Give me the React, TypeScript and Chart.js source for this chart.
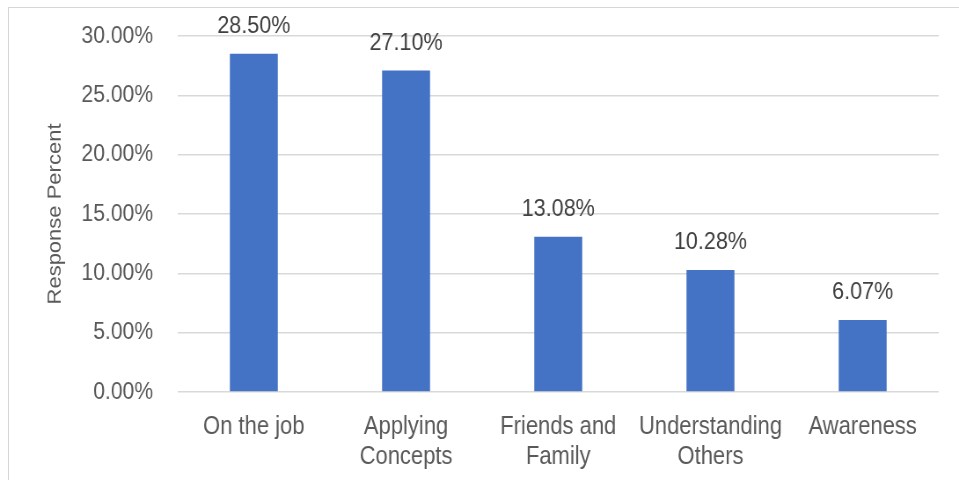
import React, { useEffect, useRef } from "react";
import { Chart, registerables } from "chart.js";

Chart.register(...registerables);

const categories: string[][] = [
  ["On the job"],
  ["Applying", "Concepts"],
  ["Friends and", "Family"],
  ["Understanding", "Others"],
  ["Awareness"],
];
const values: number[] = [28.5, 27.1, 13.08, 10.28, 6.07];
const valueLabels: string[] = ["28.50%", "27.10%", "13.08%", "10.28%", "6.07%"];
const yMin = 0;
const yMax = 30;
const yStep = 5;
const yTitle = "Response Percent";

// The reference's glyphs are horizontally condensed; draw on a wider canvas and squeeze it.
const SQUEEZE = 0.88;
const OUT_W = 959;
const OUT_H = 480;
const IN_W = Math.round(OUT_W / SQUEEZE);
const FONT = '"Liberation Sans", Arial, Helvetica, sans-serif';

const labelPlugin = {
  id: "valueLabels",
  afterDatasetsDraw(chart: any) {
    const ctx = chart.ctx;
    const meta = chart.getDatasetMeta(0);
    ctx.save();
    ctx.font = `24.5px ${FONT}`;
    ctx.fillStyle = "#404040";
    ctx.textAlign = "center";
    ctx.textBaseline = "middle";
    meta.data.forEach((bar: any, i: number) => {
      ctx.fillText(valueLabels[i], bar.x, bar.y - 27.5);
    });
    const area = chart.chartArea;
    ctx.translate(62.5, (area.top + area.bottom) / 2);
    ctx.rotate(-Math.PI / 2);
    ctx.font = `22px ${FONT}`;
    ctx.fillStyle = "#595959";
    ctx.fillText(yTitle, 0, 0);
    ctx.restore();
  },
};

export default function App() {
  const ref = useRef<HTMLCanvasElement | null>(null);

  useEffect(() => {
    if (!ref.current) return;
    const chart = new Chart(ref.current, {
      type: "bar",
      data: {
        labels: categories,
        datasets: [
          {
            data: values,
            backgroundColor: "#4472C4",
            borderWidth: 0,
            categoryPercentage: 1,
            barPercentage: 0.315,
          },
        ],
      },
      options: {
        responsive: false,
        animation: false,
        devicePixelRatio: 1,
        layout: { padding: { left: 0, right: 23, top: 36, bottom: 0 } },
        plugins: {
          legend: { display: false },
          tooltip: { enabled: false },
          title: { display: false },
        },
        scales: {
          x: {
            grid: { display: false, drawTicks: false },
            border: { display: false },
            ticks: {
              font: { family: FONT, size: 25, lineHeight: 1.2 },
              color: "#595959",
              padding: 20,
              maxRotation: 0,
              autoSkip: false,
            },
            afterFit: (s: any) => {
              s.height = 88;
              s.paddingLeft = 0;
              s.paddingRight = 0;
            },
          },
          y: {
            min: yMin,
            max: yMax,
            ticks: {
              stepSize: yStep,
              font: { family: FONT, size: 24 },
              color: "#595959",
              padding: 28,
              callback: (v: any) => `${Number(v).toFixed(2)}%`,
            },
            grid: { color: "#d9d9d9", lineWidth: 1.5, drawTicks: false },
            border: { display: false },
            afterFit: (s: any) => {
              s.width = 202;
              s.paddingTop = 0;
              s.paddingBottom = 0;
            },
          },
        },
      },
      plugins: [labelPlugin],
    });
    return () => chart.destroy();
  }, []);

  return (
    <div
      style={{
        position: "fixed",
        left: 0,
        top: 0,
        width: OUT_W,
        height: OUT_H,
        overflow: "hidden",
        background: "#ffffff",
      }}
    >
      <div
        style={{
          position: "absolute",
          left: 8,
          top: 7,
          width: 2000,
          height: 2000,
          borderLeft: "1.5px solid #d6d6d6",
          borderTop: "1.5px solid #d6d6d6",
        }}
      />
      <canvas
        ref={ref}
        width={IN_W}
        height={OUT_H}
        style={{
          position: "absolute",
          left: 0,
          top: 0,
          width: `${OUT_W}px`,
          height: `${OUT_H}px`,
        }}
      />
    </div>
  );
}
